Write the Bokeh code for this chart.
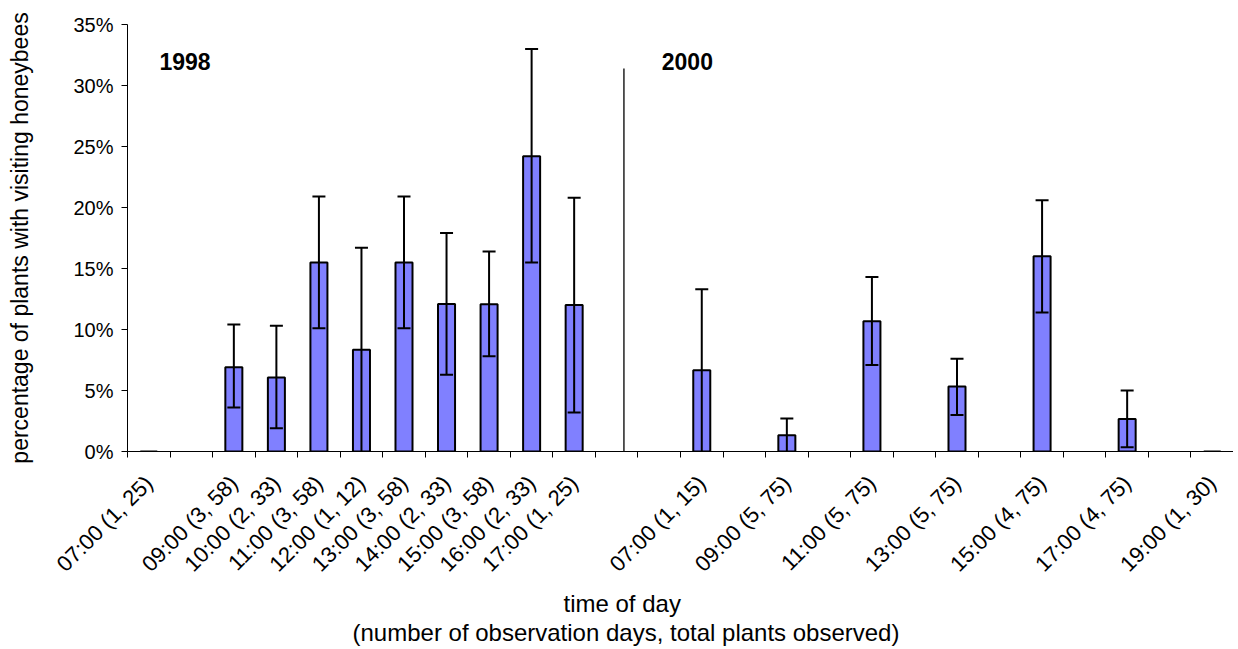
import math
from bokeh.plotting import figure
from bokeh.models import (ColumnDataSource, FixedTicker, NumeralTickFormatter, Whisker,
                          TeeHead, Label, Range1d, Arrow, Title)
from bokeh.embed import file_html
from bokeh.resources import INLINE

# ---- data -------------------------------------------------------------
tick_labels = ["07:00 (1, 25)", "", "09:00 (3, 58)", "10:00 (2, 33)", "11:00 (3, 58)",
               "12:00 (1, 12)", "13:00 (3, 58)", "14:00 (2, 33)", "15:00 (3, 58)",
               "16:00 (2, 33)", "17:00 (1, 25)", "", "",
               "07:00 (1, 15)", "", "09:00 (5, 75)", "", "11:00 (5, 75)", "",
               "13:00 (5, 75)", "", "15:00 (4, 75)", "", "17:00 (4, 75)", "",
               "19:00 (1, 30)"]
# percentage of plants with visiting honeybees (None = no observation)
pct = [0.0, None, 6.9, 6.06, 15.5, 8.33, 15.5, 12.1, 12.07, 24.2, 12.0, None, None,
       6.67, None, 1.33, None, 10.67, None, 5.33, None, 16.0, None, 2.67, None, 0.0]
err_upper = [None, None, 10.4, 10.3, 20.9, 16.7, 20.9, 17.9, 16.4, 33.0, 20.8, None, None,
             13.3, None, 2.7, None, 14.3, None, 7.6, None, 20.6, None, 5.0, None, None]
err_lower = [None, None, 3.6, 1.9, 10.1, 0.0, 10.1, 6.3, 7.8, 15.5, 3.2, None, None,
             0.0, None, 0.0, None, 7.1, None, 3.0, None, 11.4, None, 0.35, None, None]
year_labels = ["1998", "2000"]
x_title = ["time of day", "(number of observation days, total plants observed)"]

FONT = "Liberation Sans"
n = len(tick_labels)
centers = [i + 0.5 for i in range(n)]

bx = [centers[i] for i in range(n) if pct[i] is not None]
btop = [pct[i] / 100 for i in range(n) if pct[i] is not None]
bars = ColumnDataSource(dict(x=bx, top=btop))

def whisk(with_cap):
    xs, up, lo = [], [], []
    for i in range(n):
        if err_upper[i] is None:
            continue
        if (err_lower[i] > 0) == with_cap:
            xs.append(centers[i]); up.append(err_upper[i] / 100); lo.append(err_lower[i] / 100)
    return ColumnDataSource(dict(x=xs, upper=up, lower=lo))

p = figure(frame_width=1106, frame_height=427, output_backend="svg", toolbar_location=None,
           x_range=Range1d(0, n), y_range=Range1d(0, 0.35),
           min_border_left=127, min_border_top=24, min_border_right=0, min_border_bottom=190)
p.outline_line_color = None
p.grid.visible = False
p.background_fill_color = "white"

p.vbar(x="x", top="top", width=0.4, source=bars, fill_color="#8080FF",
       line_color="black", line_width=2)

for cap in (True, False):
    src = whisk(cap)
    w = Whisker(source=src, base="x", upper="upper", lower="lower", level="annotation",
                line_color="black", line_width=2,
                upper_head=TeeHead(size=13, line_width=2, line_color="black"),
                lower_head=TeeHead(size=13, line_width=2, line_color="black") if cap else None)
    p.add_layout(w)

# separator between the two years
p.add_layout(Arrow(x_start=11.67, y_start=0, x_end=11.67, y_end=0.314, end=None,
                   line_color="#222222", line_width=1.5, level="overlay"))

# year labels
for xx, txt in zip((0.75, 12.56), year_labels):
    p.add_layout(Label(x=xx, y=0.327, text=txt, text_font=FONT, text_font_size="23px",
                       text_font_style="bold", text_baseline="top", text_color="black"))

# x axis
xa = p.xaxis[0]
xa.ticker = FixedTicker(ticks=centers, minor_ticks=list(range(n + 1)))
xa.major_label_overrides = {c: l for c, l in zip(centers, tick_labels)}
xa.major_label_orientation = math.pi / 4
xa.major_tick_in = 0
xa.major_tick_out = 0
xa.minor_tick_in = 0
xa.minor_tick_out = 6
xa.minor_tick_line_color = "black"
xa.axis_line_color = "black"
xa.major_label_text_font = FONT
xa.major_label_text_font_size = "22px"
xa.major_label_text_color = "black"
xa.major_label_standoff = 22

# x axis title: two lines, centred on the chart area like the original
for txt, off, so in zip(x_title, (436, 225), (2, -2)):
    t = Title(text=txt, align="left", vertical_align="top", offset=off, standoff=so,
              text_font=FONT, text_font_size="24px", text_font_style="normal",
              text_color="black")
    p.add_layout(t, "below")

# y axis
ya = p.yaxis[0]
ya.ticker = FixedTicker(ticks=[0, 0.05, 0.10, 0.15, 0.20, 0.25, 0.30, 0.35])
ya.formatter = NumeralTickFormatter(format="0%")
ya.major_tick_in = 0
ya.major_tick_out = 6
ya.minor_tick_line_color = None
ya.axis_line_color = "black"
ya.major_label_text_font = FONT
ya.major_label_text_font_size = "20px"
ya.major_label_text_color = "black"
ya.major_label_standoff = 8
ya.axis_label = "percentage of plants with visiting honeybees"
ya.axis_label_text_font = FONT
ya.axis_label_text_font_size = "23px"
ya.axis_label_text_font_style = "normal"
ya.axis_label_text_color = "black"
ya.axis_label_standoff = 37

open("out.html", "w").write(file_html(p, INLINE))
